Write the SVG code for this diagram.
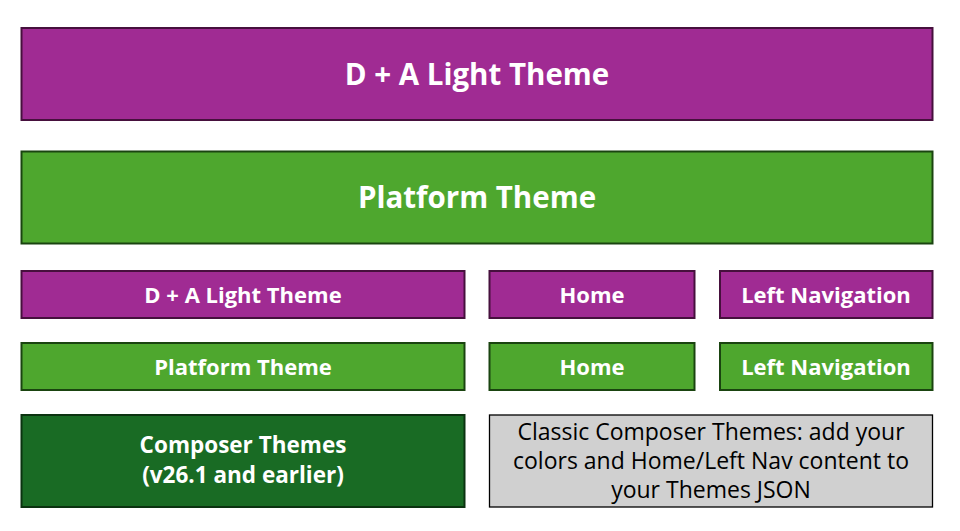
<svg xmlns="http://www.w3.org/2000/svg" width="960" height="531" viewBox="0 0 960 531">
<style>
.p{fill:#A02B93;stroke:#46103D;stroke-width:2}
.g{fill:#4EA72E;stroke:#1A4410;stroke-width:2}
.dg{fill:#196B24;stroke:#0B3310;stroke-width:2}
.gr{fill:#D0D0D0;stroke:#000;stroke-width:1.3}
text{font-family:"Open Sans","Noto Sans",sans-serif;text-anchor:middle}
.w{fill:#fff;font-weight:700}
.big{font-size:29.5px}
.med{font-size:22px}
.cmp{font-size:22.5px}
.dark{fill:#000;font-size:23px;font-weight:400}
</style>
<rect width="960" height="531" fill="#fff"/>
<g id="da-light-top"><rect class="p" x="21.5" y="28" width="911" height="92"/><text class="w big" x="477" y="85">D + A Light Theme</text></g>
<g id="platform-top"><rect class="g" x="21.5" y="151.5" width="911" height="92"/><text class="w big" x="477" y="208">Platform Theme</text></g>
<g id="da-light-row"><rect class="p" x="21.5" y="271" width="443" height="47"/><text class="w med" x="243" y="302.5">D + A Light Theme</text></g>
<g id="home-p"><rect class="p" x="489.5" y="271" width="205" height="47"/><text class="w med" x="592" y="302.5">Home</text></g>
<g id="leftnav-p"><rect class="p" x="720" y="271" width="212.5" height="47"/><text class="w med" x="826" y="302.5">Left Navigation</text></g>
<g id="platform-row"><rect class="g" x="21.5" y="343" width="443" height="47"/><text class="w med" x="243" y="374.5">Platform Theme</text></g>
<g id="home-g"><rect class="g" x="489.5" y="343" width="205" height="47"/><text class="w med" x="592" y="374.5">Home</text></g>
<g id="leftnav-g"><rect class="g" x="720" y="343" width="212.5" height="47"/><text class="w med" x="826" y="374.5">Left Navigation</text></g>
<g id="composer"><rect class="dg" x="21.5" y="415" width="443" height="92"/><text class="w cmp" x="243" y="453">Composer Themes</text><text class="w cmp" x="243" y="483">(v26.1 and earlier)</text></g>
<g id="classic"><rect class="gr" x="489.5" y="415" width="443" height="92"/><text class="dark" x="711" y="440">Classic Composer Themes: add your</text><text class="dark" x="711" y="469">colors and Home/Left Nav content to</text><text class="dark" x="711" y="498">your Themes JSON</text></g>
<g id="connectors"></g>
</svg>
